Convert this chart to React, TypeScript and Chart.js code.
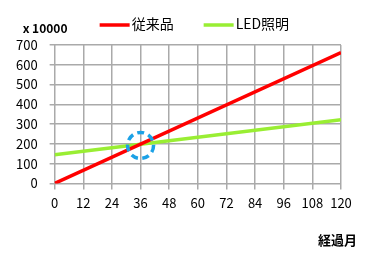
import React, { useEffect, useRef } from "react";
import { Chart, registerables } from "chart.js";

Chart.register(...registerables);

const months = [0, 120];
const conventional = [0, 662];
const led = [145, 322];
const seriesNames = ["従来品", "LED照明"];
const seriesColors = ["#ff0000", "#99ee33"];
const xTicks = [0, 12, 24, 36, 48, 60, 72, 84, 96, 108, 120];
const yTicks = [0, 100, 200, 300, 400, 500, 600, 700];
const unitLabel = "x 10000";
const xTitle = "経過月";
const highlight = { x: 36, y: 192 };

const FONT = "'Noto Sans CJK JP', 'Noto Sans', sans-serif";

const overlayPlugin = {
  id: "overlay",
  afterDatasetsDraw(chart: any) {
    const { ctx, scales } = chart;
    const cx = scales.x.getPixelForValue(highlight.x);
    const cy = scales.y.getPixelForValue(highlight.y);
    ctx.save();
    ctx.strokeStyle = "#1ba1e6";
    ctx.lineWidth = 3.5;
    ctx.setLineDash([7, 4.5]);
    ctx.beginPath();
    ctx.arc(cx, cy, 13, 0, Math.PI * 2);
    ctx.stroke();
    ctx.restore();
  },
  afterDraw(chart: any) {
    const { ctx, chartArea } = chart;
    ctx.save();
    ctx.fillStyle = "#000";
    ctx.font = `bold 12px ${FONT}`;
    ctx.textAlign = "left";
    ctx.textBaseline = "middle";
    ctx.fillText(unitLabel, chartArea.left - 32, chartArea.top - 17);
    ctx.font = `bold 13px ${FONT}`;
    ctx.textAlign = "right";
    ctx.fillText(xTitle, chartArea.right + 16, chartArea.bottom + 57);
    // legend
    const ly = chartArea.top - 20;
    const starts = [chartArea.left + 45, chartArea.left + 149];
    ctx.font = `14px ${FONT}`;
    ctx.textAlign = "left";
    seriesNames.forEach((name, i) => {
      const x0 = starts[i];
      ctx.strokeStyle = seriesColors[i];
      ctx.lineWidth = 3.5;
      ctx.beginPath();
      ctx.moveTo(x0, ly);
      ctx.lineTo(x0 + 30, ly);
      ctx.stroke();
      ctx.fillStyle = "#000";
      ctx.fillText(name, x0 + 32, ly - 1);
    });
    ctx.restore();
  },
};

export default function App() {
  const ref = useRef<HTMLCanvasElement>(null);
  useEffect(() => {
    document.body.style.margin = "0";
    const chart = new Chart(ref.current!, {
      type: "line",
      data: {
        datasets: [
          {
            label: seriesNames[0],
            data: months.map((m, i) => ({ x: m, y: conventional[i] })),
            borderColor: seriesColors[0],
            backgroundColor: seriesColors[0],
            borderWidth: 3.5,
            pointRadius: 0,
          },
          {
            label: seriesNames[1],
            data: months.map((m, i) => ({ x: m, y: led[i] })),
            borderColor: seriesColors[1],
            backgroundColor: seriesColors[1],
            borderWidth: 3.5,
            pointRadius: 0,
          },
        ],
      },
      options: {
        animation: false,
        responsive: false,
        layout: { padding: { left: 4, right: 30, top: 45, bottom: 41 } },
        plugins: {
          tooltip: { enabled: false },
          legend: { display: false },
        },
        scales: {
          x: {
            type: "linear",
            min: 0,
            max: 120,
            afterBuildTicks: (s: any) => {
              s.ticks = xTicks.map((v) => ({ value: v }));
            },
            ticks: {
              autoSkip: false,
              maxRotation: 0,
              color: "#000",
              font: { family: FONT, size: 13 },
              padding: 6,
            },
            grid: { color: "#aaaaaa", lineWidth: 1.5, tickLength: 6 },
            border: { display: false },
          },
          y: {
            min: 0,
            max: 700,
            afterBuildTicks: (s: any) => {
              s.ticks = yTicks.map((v) => ({ value: v }));
            },
            ticks: {
              color: "#000",
              font: { family: FONT, size: 13 },
              padding: 12,
            },
            grid: { color: "#aaaaaa", lineWidth: 1.5, tickLength: 5 },
            border: { display: false },
          },
        },
      },
      plugins: [overlayPlugin],
    });
    return () => chart.destroy();
  }, []);
  return <canvas ref={ref} width={371} height={258} style={{ display: "block" }} />;
}
